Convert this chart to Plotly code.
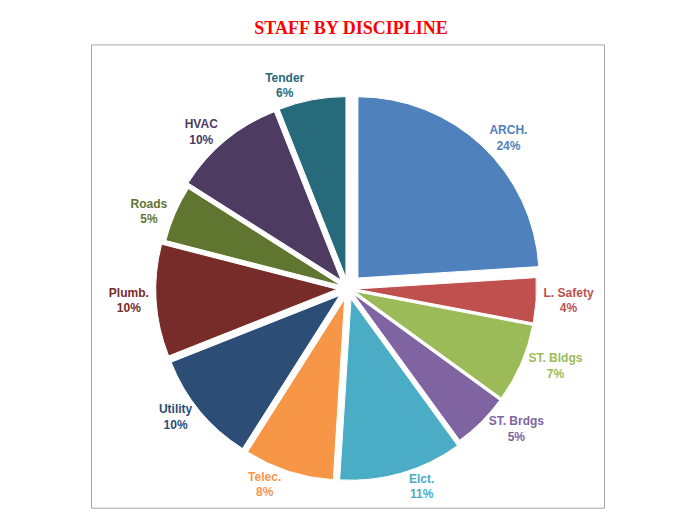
import plotly.graph_objects as go

labels = ["ARCH.", "L. Safety", "ST. Bldgs", "ST. Brdgs", "Elct.", "Telec.", "Utility", "Plumb.", "Roads", "HVAC", "Tender"]
values = [24, 4, 7, 5, 11, 8, 10, 10, 5, 10, 6]
colors = ["#4F81BD", "#C0504D", "#9BBB59", "#8064A2", "#4BACC6", "#F79646",
          "#2C4D75", "#772C2A", "#5F7530", "#4D3B62", "#276A7C"]
pulls = [0.08, 0.04, 0.04, 0.04, 0.06, 0.06, 0.06, 0.06, 0.04, 0.06, 0.06]

fig = go.Figure(go.Pie(
    labels=labels, values=values, sort=False, direction="clockwise", rotation=0,
    marker=dict(colors=colors, line=dict(color="white", width=1)),
    pull=pulls,
    texttemplate="<b>%{label}<br>%{percent:.0%}</b>", textposition="outside",
    textfont=dict(color=colors, size=12, family="Liberation Sans"),
    showlegend=False, domain=dict(x=[0.05, 0.95], y=[0.02, 0.92])))

fig.update_layout(
    width=686, height=528, paper_bgcolor="white",
    margin=dict(l=20, r=20, t=50, b=25),
    title=dict(text="<b>STAFF BY DISCIPLINE</b>", x=0.5, y=0.975, xanchor="center",
               font=dict(family="Liberation Serif", size=18, color="#FF0000")),
    shapes=[dict(type="rect", xref="paper", yref="paper", x0=-0.015, x1=1.015, y0=-0.035, y1=1.03,
                 line=dict(color="#A6A6A6", width=1))])

fig.write_html("out.html")
